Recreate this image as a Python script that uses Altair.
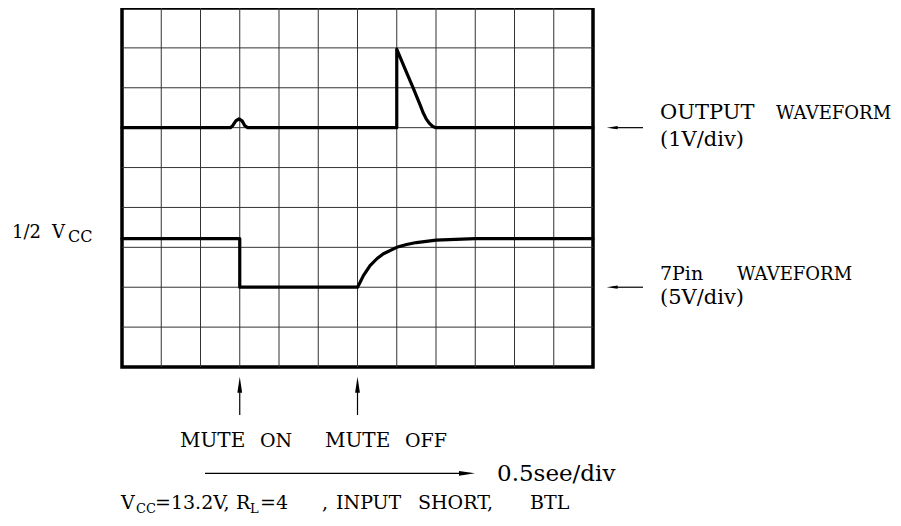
import altair as alt
import pandas as pd

# ---------------- data (x: time divisions, y: vertical divisions) ----------------
out_x = [0, 2.76, 2.82, 2.9, 2.98, 3.06, 3.13, 3.2, 7.0, 7.0, 7.2, 7.42, 7.6, 7.67, 7.75, 7.84, 7.92, 8.0, 12]
out_y = [6, 6, 6.05, 6.17, 6.22, 6.17, 6.05, 6.0, 6.0, 7.97, 7.5, 6.99, 6.56, 6.38, 6.22, 6.1, 6.03, 6.0, 6.0]

pin_x = [0, 3.0, 3.0, 6.0, 6.07, 6.15, 6.32, 6.5, 6.66, 7.0, 7.25, 7.5, 8.0, 8.5, 9.0, 12]
pin_y = [3.22, 3.22, 2.0, 2.0, 2.13, 2.29, 2.54, 2.72, 2.84, 3.0, 3.07, 3.12, 3.18, 3.2, 3.22, 3.22]

grid_x = list(range(1, 12))
grid_y = list(range(1, 9))

mute_times = [3.0, 6.0]
trace_levels = [6.0, 2.0]

# ---------------- layout ----------------
W, H = 471, 359
PL, PT, PR, PB = 114, 0, 300, 151
X0 = 8 + PL
Y1 = 8 + PT + H
DX = W / 12
DY = H / 9


def X(px):
    return (px - X0) / DX


def Y(py):
    return (Y1 - py) / DY


xs = alt.Scale(domain=[0, 12], nice=False, zero=False)
ys = alt.Scale(domain=[0, 9], nice=False, zero=False)

lines_df = pd.DataFrame(
    [{"series": "out", "i": i, "x": a, "y": b} for i, (a, b) in enumerate(zip(out_x, out_y))]
    + [{"series": "pin", "i": i, "x": a, "y": b} for i, (a, b) in enumerate(zip(pin_x, pin_y))]
)

# arrow shafts
shafts = []
for lv in trace_levels:
    shafts.append({"x": X(612), "x2": X(643), "y": lv, "y2": lv})
for t in mute_times:
    shafts.append({"x": t, "x2": t, "y": Y(384), "y2": Y(415)})
shafts.append({"x": X(205), "x2": X(460), "y": Y(473.3), "y2": Y(473.3)})
shafts_df = pd.DataFrame(shafts)

# arrow heads
heads = []
for lv in trace_levels:
    heads.append({"x": X(612.2), "y": lv, "ang": 270, "sz": 121})
for t in mute_times:
    heads.append({"x": t, "y": Y(384.7), "ang": 0, "sz": 256})
heads.append({"x": X(467), "y": Y(473.3), "ang": 90, "sz": 256})
heads_df = pd.DataFrame(heads)

# text pieces: (text, page x, page baseline y, font size)
texts = [
    ("1/2", 12, 238, 18), ("V", 52, 238, 18), ("CC", 68, 242, 16),
    ("OUTPUT", 660, 119, 21), ("WAVEFORM", 776, 119, 18), ("(1V/div)", 660, 146, 21),
    ("7Pin", 660, 280, 19), ("WAVEFORM", 737, 280, 18), ("(5V/div)", 660, 304, 21),
    ("MUTE", 180, 447, 20), ("ON", 260, 447, 19), ("MUTE", 325, 447, 20), ("OFF", 405, 447, 19),
    ("0.5see/div", 497, 481, 23),
    ("V", 121, 509, 19), ("CC", 136, 513, 13), ("=13.2V,", 155, 509, 19),
    ("R", 236, 509, 19), ("L", 250, 513, 13), ("=4", 260, 509, 19), (",", 322, 509, 19),
    ("INPUT", 336, 509, 19), ("SHORT,", 418, 509, 19), ("BTL", 530, 509, 19),
]
text_df = pd.DataFrame([{"t": t, "x": X(a), "y": Y(b), "fs": s} for t, a, b, s in texts])

# ---------------- layers ----------------
vgrid = alt.Chart(pd.DataFrame({"x": grid_x})).mark_rule(color="#333", strokeWidth=1).encode(
    x=alt.X("x:Q", scale=xs, axis=None)
)
hgrid = alt.Chart(pd.DataFrame({"y": grid_y})).mark_rule(color="#333", strokeWidth=1).encode(
    y=alt.Y("y:Q", scale=ys, axis=None)
)
traces = alt.Chart(lines_df).mark_line(color="black", strokeWidth=3.2, strokeJoin="round", strokeCap="round").encode(
    x=alt.X("x:Q", scale=xs, axis=None),
    y=alt.Y("y:Q", scale=ys, axis=None),
    detail="series:N",
    order="i:Q",
)
shaft_layer = alt.Chart(shafts_df).mark_rule(color="black", strokeWidth=1.2).encode(
    x=alt.X("x:Q", scale=xs, axis=None), x2="x2:Q",
    y=alt.Y("y:Q", scale=ys, axis=None), y2="y2:Q",
)
head_layer = alt.Chart(heads_df).mark_point(
    shape="M0,-1L0.3,1L-0.3,1Z", filled=True, color="black", opacity=1, strokeWidth=0
).encode(
    x=alt.X("x:Q", scale=xs, axis=None),
    y=alt.Y("y:Q", scale=ys, axis=None),
    angle=alt.Angle("ang:Q", scale=None),
    size=alt.Size("sz:Q", scale=None, legend=None),
)
text_layer = alt.Chart(text_df).mark_text(
    align="left", baseline="alphabetic", font="DejaVu Serif", color="black"
).encode(
    x=alt.X("x:Q", scale=xs, axis=None),
    y=alt.Y("y:Q", scale=ys, axis=None),
    text="t:N",
    size=alt.Size("fs:Q", scale=None, legend=None),
)

chart = (
    alt.layer(vgrid, hgrid, traces, shaft_layer, head_layer, text_layer)
    .properties(
        width=W,
        height=H,
        autosize=alt.AutoSizeParams(type="none"),
        padding={"left": PL, "top": PT, "right": PR, "bottom": PB},
        background="white",
    )
    .configure_view(stroke="black", strokeWidth=3.5)
)

chart.save("out.html", embed_options={"renderer": "svg", "actions": False})
